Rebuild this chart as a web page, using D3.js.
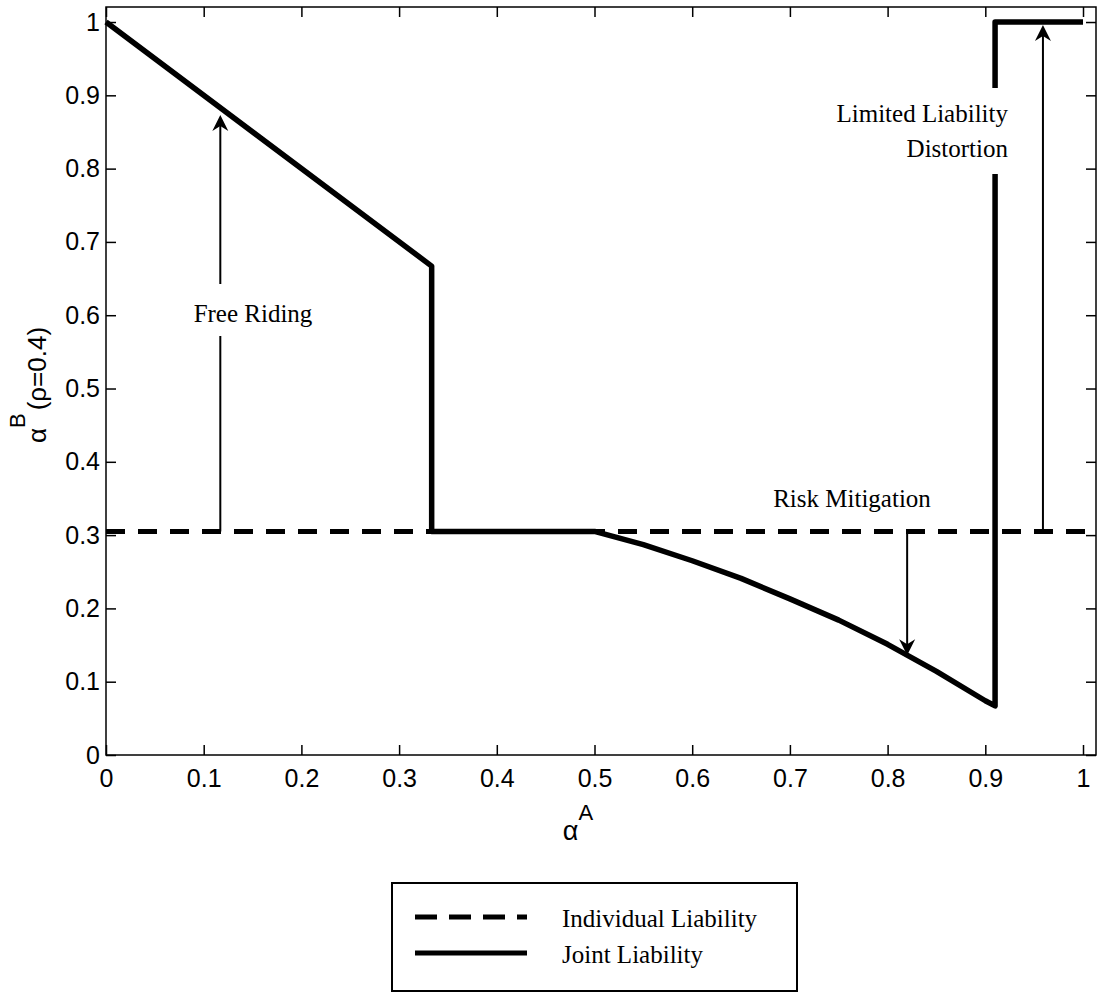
<!DOCTYPE html>
<html>
<head>
  <title></title>
  <style>
    body { margin: 0; background: #fff; }
    text { fill: #000; }
    .tick text { font-family: "Liberation Sans", Arial, sans-serif; font-size: 25px; }
    .note { font-family: "Liberation Serif", "Times New Roman", serif; font-size: 25px; }
  </style>
</head>
<body>
  <svg width="1097" height="998"></svg>

  <script src="https://d3js.org/d3.v7.min.js"></script>
  <script>

  // values
  var xTicks = [0, 0.1, 0.2, 0.3, 0.4, 0.5, 0.6, 0.7, 0.8, 0.9, 1];
  var yTicks = [0, 0.1, 0.2, 0.3, 0.4, 0.5, 0.6, 0.7, 0.8, 0.9, 1];

  var individualY = 0.305;
  var individual = [[0, individualY], [1.015, individualY]];

  var joint = [
    [0, 1], [1/3, 0.667], [1/3, 0.305], [0.5, 0.305],
    [0.55, 0.287], [0.6, 0.265], [0.65, 0.241], [0.7, 0.213],
    [0.75, 0.184], [0.8, 0.151], [0.85, 0.114], [0.9, 0.074],
    [0.91, 0.067], [0.91, 1], [1, 1]
  ];

  // arrows: x, from, to
  var arrows = [
    {x: 0.117, y0: 0.305, y1: 0.873},
    {x: 0.82,  y0: 0.305, y1: 0.136},
    {x: 0.959, y0: 0.305, y1: 0.996}
  ];

  var legendItems = ["Individual Liability", "Joint Liability"];

  var svg = d3.select("svg");

  // plot box in pixels ("top" is taken by window.top)
  var padL = 106, padR = 1096, padT = 7, padB = 755;

  var x = d3.scaleLinear().domain([0, 1.0133]).range([padL, padR]);
  var y = d3.scaleLinear().domain([0, 1.0205]).range([padB, padT]);

  // frame
  svg.append("rect")
      .attr("x", padL).attr("y", padT)
      .attr("width", padR - padL).attr("height", padB - padT)
      .attr("fill", "none").attr("stroke", "#000").attr("stroke-width", 1.5);

  var fmt = function(d) { return d === 0 || d === 1 ? String(d) : d3.format(".1f")(d); };

  svg.append("g").attr("transform", "translate(0," + padB + ")")
      .call(d3.axisBottom(x).tickValues(xTicks).tickFormat(fmt).tickSizeInner(-10).tickSizeOuter(0).tickPadding(14));
  svg.append("g").attr("transform", "translate(" + padL + ",0)")
      .call(d3.axisLeft(y).tickValues(yTicks).tickFormat(fmt).tickSizeInner(-10).tickSizeOuter(0).tickPadding(6));
  svg.append("g").attr("transform", "translate(0," + padT + ")")
      .call(d3.axisTop(x).tickValues(xTicks).tickFormat("").tickSizeInner(-10).tickSizeOuter(0));
  svg.append("g").attr("transform", "translate(" + padR + ",0)")
      .call(d3.axisRight(y).tickValues(yTicks).tickFormat("").tickSizeInner(-10).tickSizeOuter(0));

  svg.selectAll(".domain").remove();
  svg.selectAll(".tick line").attr("stroke", "#000").attr("stroke-width", 1.5);

  // axis labels
  var xl = svg.append("text")
      .attr("x", 578).attr("y", 840)
      .attr("text-anchor", "middle")
      .style("font-family", "Liberation Sans, Arial, sans-serif").style("font-size", "27px");
  xl.append("tspan").text("α");
  xl.append("tspan").attr("dy", -20).attr("font-size", "22px").text("A");

  var yl = svg.append("text")
      .attr("transform", "translate(46,385) rotate(-90)")
      .attr("text-anchor", "middle")
      .style("font-family", "Liberation Sans, Arial, sans-serif").style("font-size", "26px");
  yl.append("tspan").text("α");
  yl.append("tspan").attr("dy", -21).attr("font-size", "22px").text("B");
  yl.append("tspan").attr("dy", 21).attr("dx", 3).text("(ρ=0.4)");

  var line = d3.line().x(function(d) { return x(d[0]); }).y(function(d) { return y(d[1]); });

  svg.append("path").datum(individual)
      .attr("d", line)
      .attr("fill", "none").attr("stroke", "#000").attr("stroke-width", 5)
      .attr("stroke-dasharray", "19,13");

  svg.append("path").datum(joint)
      .attr("d", line)
      .attr("fill", "none").attr("stroke", "#000").attr("stroke-width", 5.5)
      .attr("stroke-linejoin", "round");

  // arrows
  arrows.forEach(function(a) {
    var xp = x(a.x), y0 = y(a.y0), y1 = y(a.y1);
    var dir = y1 < y0 ? 1 : -1;
    svg.append("line")
        .attr("x1", xp).attr("y1", y0).attr("x2", xp).attr("y2", y1 + dir * 6)
        .attr("stroke", "#000").attr("stroke-width", 2);
    svg.append("path")
        .attr("d", "M" + xp + "," + y1 +
                   "L" + (xp - 8) + "," + (y1 + dir * 16) +
                   "L" + xp + "," + (y1 + dir * 11) +
                   "L" + (xp + 8) + "," + (y1 + dir * 16) + "Z")
        .attr("fill", "#000");
  });

  // text annotations with white backgrounds
  function note(lines, xp, yp, anchor, bg) {
    svg.append("rect")
        .attr("x", bg[0]).attr("y", bg[1]).attr("width", bg[2]).attr("height", bg[3])
        .attr("fill", "#fff");
    lines.forEach(function(s, i) {
      svg.append("text").attr("class", "note")
          .attr("x", xp).attr("y", yp + i * 35)
          .attr("text-anchor", anchor)
          .text(s);
    });
  }

  note(["Free Riding"], 253, 322, "middle", [186, 284, 134, 52]);
  note(["Limited Liability", "Distortion"], 1008, 122, "end", [848, 88, 164, 86]);
  note(["Risk Mitigation"], 852, 507, "middle", [772, 484, 160, 30]);

  // legend
  var lg = svg.append("g");
  lg.append("rect")
      .attr("x", 392).attr("y", 883).attr("width", 405).attr("height", 108)
      .attr("fill", "#fff").attr("stroke", "#000").attr("stroke-width", 2);

  legendItems.forEach(function(name, i) {
    var yy = 917 + i * 36;
    lg.append("line")
        .attr("x1", 415).attr("x2", 527).attr("y1", yy).attr("y2", yy)
        .attr("stroke", "#000").attr("stroke-width", 5)
        .attr("stroke-dasharray", i === 0 ? "22,12" : null);
    lg.append("text").attr("class", "note")
        .attr("x", 562).attr("y", yy + 10)
        .text(name);
  });

  </script>
</body>
</html>
